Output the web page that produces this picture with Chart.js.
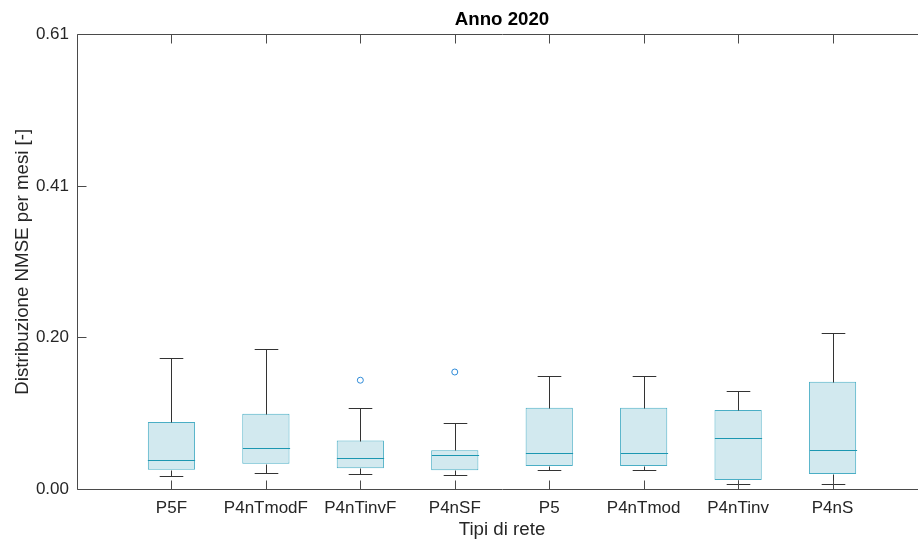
<!DOCTYPE html>
<html>
<head>
<meta charset="utf-8">
<script src="https://cdn.jsdelivr.net/npm/chart.js@4"></script>
<style>
  html, body { margin: 0; padding: 0; background: #fff; overflow: hidden; }
  #wrap { width: 940px; height: 547px; }
</style>
</head>
<body>
<div id="wrap"><canvas id="boxChart" width="940" height="547"></canvas></div>
<script>
// Box plot data (NMSE per month, year 2020)
const categories = ['P5F', 'P4nTmodF', 'P4nTinvF', 'P4nSF', 'P5', 'P4nTmod', 'P4nTinv', 'P4nS'];
const whiskerLow  = [0.018, 0.021, 0.020, 0.019, 0.026, 0.026, 0.007, 0.007];
const q1          = [0.026, 0.034, 0.028, 0.025, 0.031, 0.031, 0.012, 0.020];
const medians     = [0.039, 0.055, 0.042, 0.045, 0.048, 0.048, 0.068, 0.053];
const q3          = [0.090, 0.101, 0.065, 0.052, 0.109, 0.109, 0.106, 0.144];
const whiskerHigh = [0.176, 0.188, 0.109, 0.088, 0.152, 0.152, 0.132, 0.210];
const outlierCat  = [3, 4];          // 1-based category position
const outlierVal  = [0.146, 0.157];

const yTicks = [0, 0.61 / 3, 1.22 / 3, 0.61];
const yTickLabels = ['0.00', '0.20', '0.41', '0.61'];

const axisColor = '#4a4a4a';
const textColor = '#262626';
const font = 'Liberation Sans, Arial, Helvetica, sans-serif';

// whiskers, caps and medians, placed through the chart scales
const boxExtras = {
    id: 'boxExtras',
    afterDatasetsDraw(chart) {
        const { ctx, scales: { x, y } } = chart;
        const meta = chart.getDatasetMeta(0);
        ctx.save();
        ctx.lineWidth = 1;
        categories.forEach((c, i) => {
            const bar = meta.data[i];
            const cx = Math.round(x.getPixelForValue(i + 1)) + 0.5;
            const half = bar.width / 2;
            const cap = bar.width / 4;
            const py = v => Math.round(y.getPixelForValue(v)) + 0.5;

            ctx.strokeStyle = '#333333';
            ctx.beginPath();
            ctx.moveTo(cx, py(q3[i]));
            ctx.lineTo(cx, py(whiskerHigh[i]));
            ctx.moveTo(cx - cap, py(whiskerHigh[i]));
            ctx.lineTo(cx + cap, py(whiskerHigh[i]));
            ctx.moveTo(cx, py(q1[i]));
            ctx.lineTo(cx, py(whiskerLow[i]));
            ctx.moveTo(cx - cap, py(whiskerLow[i]));
            ctx.lineTo(cx + cap, py(whiskerLow[i]));
            ctx.stroke();

            ctx.strokeStyle = '#1c97b1';
            ctx.beginPath();
            ctx.moveTo(cx - half, py(medians[i]));
            ctx.lineTo(cx + half, py(medians[i]));
            ctx.stroke();
        });
        ctx.restore();
    }
};

// MATLAB-like box frame with inward ticks
const frame = {
    id: 'frame',
    afterDraw(chart) {
        const { ctx, chartArea: a, scales: { x, y } } = chart;
        const L = Math.round(a.left) + 0.5, R = Math.round(a.right) + 0.5;
        const T = Math.round(a.top) + 0.5, B = Math.round(a.bottom) + 0.5;
        const len = 9;
        ctx.save();
        ctx.strokeStyle = axisColor;
        ctx.lineWidth = 1;
        ctx.beginPath();
        ctx.rect(L, T, R - L, B - T);
        yTicks.forEach(v => {
            const py = Math.round(y.getPixelForValue(v)) + 0.5;
            ctx.moveTo(L, py); ctx.lineTo(L + len, py);
            ctx.moveTo(R, py); ctx.lineTo(R - len, py);
        });
        categories.forEach((c, i) => {
            const px = Math.round(x.getPixelForValue(i + 1)) + 0.5;
            ctx.moveTo(px, B); ctx.lineTo(px, B - len);
            ctx.moveTo(px, T); ctx.lineTo(px, T + len);
        });
        ctx.stroke();
        ctx.restore();
    }
};

new Chart(document.getElementById('boxChart'), {
    type: 'bar',
    data: {
        datasets: [{
            type: 'bar',
            data: categories.map((c, i) => ({ x: i + 1, y: [q1[i], q3[i]] })),
            backgroundColor: '#d2e9ef',
            borderColor: '#4aaec5',
            borderWidth: 1,
            borderSkipped: false,
            barPercentage: 0.5,
            categoryPercentage: 1
        }, {
            type: 'scatter',
            data: outlierCat.map((c, i) => ({ x: c, y: outlierVal[i] })),
            pointStyle: 'circle',
            pointRadius: 3,
            borderColor: '#2f8bd8',
            backgroundColor: 'rgba(0,0,0,0)',
            borderWidth: 1
        }]
    },
    options: {
        responsive: false,
        animation: false,
        layout: { padding: { left: 0, right: 13, top: 0, bottom: 0 } },
        plugins: {
            legend: { display: false },
            tooltip: { enabled: false },
            title: {
                display: true,
                text: 'Anno 2020',
                fullSize: false,
                color: '#000',
                font: { family: font, size: 18.7, weight: 'bold', lineHeight: 1.2 },
                padding: { top: 9, bottom: 3 }
            }
        },
        scales: {
            x: {
                type: 'linear',
                offset: false,
                min: 0,
                max: 9,
                afterBuildTicks: s => { s.ticks = categories.map((c, i) => ({ value: i + 1 })); },
                afterFit: s => { s.height = 58; s.paddingLeft = 0; s.paddingRight = 0; },
                grid: { display: false, drawTicks: false, offset: false },
                border: { display: false },
                ticks: {
                    autoSkip: false,
                    maxRotation: 0,
                    padding: 9,
                    color: textColor,
                    font: { family: font, size: 17 },
                    callback: v => categories[v - 1]
                },
                title: {
                    display: true,
                    text: 'Tipi di rete',
                    color: textColor,
                    font: { family: font, size: 18.7, lineHeight: 1.2 },
                    padding: { top: 0, bottom: 6 }
                }
            },
            y: {
                min: 0,
                max: 0.61,
                afterBuildTicks: s => { s.ticks = yTicks.map(v => ({ value: v })); },
                afterFit: s => { s.width = 77; },
                grid: { display: false, drawTicks: false },
                border: { display: false },
                ticks: {
                    padding: 8,
                    color: textColor,
                    font: { family: font, size: 17 },
                    callback: (v, idx) => yTickLabels[idx]
                },
                title: {
                    display: true,
                    text: 'Distribuzione NMSE per mesi [-]',
                    color: textColor,
                    font: { family: font, size: 18.7, lineHeight: 1.2 },
                    padding: { top: 12, bottom: 0 }
                }
            }
        }
    },
    plugins: [boxExtras, frame]
});
</script>
</body>
</html>
